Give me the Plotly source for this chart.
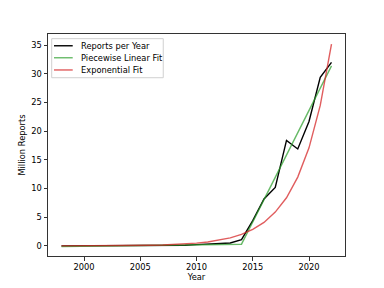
import plotly.graph_objects as go

years = list(range(1998, 2023))
reports = [0.0045, 0.012, 0.02, 0.025, 0.03, 0.05, 0.08, 0.06, 0.08, 0.1, 0.1, 0.12, 0.22, 0.33, 0.42, 0.5, 1.1,
           4.4, 8.2, 10.2, 18.4, 16.9, 21.7, 29.4, 32.0]
pw_years = [1998, 2014, 2022]
pw_values = [-0.1, 0.3, 31.4]
exp_fit = [0.006, 0.009, 0.013, 0.019, 0.027, 0.039, 0.056, 0.08, 0.11, 0.16, 0.24, 0.34, 0.48, 0.69, 0.98,
           1.4, 2.0, 2.9, 4.1, 5.9, 8.4, 12.0, 17.1, 24.5, 35.2]

names = ["Reports per Year", "Piecewise Linear Fit", "Exponential Fit"]
colors = ["black", "rgba(44,160,44,0.72)", "rgba(214,39,40,0.75)"]

fig = go.Figure()
fig.add_trace(go.Scatter(x=years, y=reports, mode="lines", name=names[0],
                         line=dict(color=colors[0], width=1.4)))
fig.add_trace(go.Scatter(x=pw_years, y=pw_values, mode="lines", name=names[1],
                         line=dict(color=colors[1], width=1.4)))
fig.add_trace(go.Scatter(x=years, y=exp_fit, mode="lines", name=names[2],
                         line=dict(color=colors[2], width=1.4)))

font = dict(family="DejaVu Sans", size=8.3, color="black")

# manual legend (paper coordinates)
shapes = [dict(type="rect", xref="paper", yref="paper", x0=0.0125, x1=0.388, y0=0.803, y1=0.979,
               line=dict(color="#d0d0d0", width=1), fillcolor="rgba(255,255,255,0.8)", layer="above")]
annotations = []
rows = [0.947, 0.893, 0.838]
for name, color, yy in zip(names, colors, rows):
    shapes.append(dict(type="line", xref="paper", yref="paper", x0=0.0202, x1=0.0832, y0=yy, y1=yy,
                       line=dict(color=color, width=1.4), layer="above"))
    annotations.append(dict(text=name, xref="paper", yref="paper", x=0.1044, y=yy, xanchor="left",
                            yanchor="middle", showarrow=False, font=font))

fig.update_layout(
    width=384, height=288,
    margin=dict(l=48, r=39, t=34, b=32),
    paper_bgcolor="white", plot_bgcolor="white",
    font=font,
    showlegend=False,
    shapes=shapes,
    annotations=annotations,
    xaxis=dict(range=[1996.8, 2023.2], tickvals=[2000, 2005, 2010, 2015, 2020], automargin=False,
               showgrid=False, zeroline=False, showline=True, linecolor="#333", linewidth=1,
               mirror=True, ticks="outside", ticklen=3.5, tickcolor="#333",
               title=dict(text="Year", font=font, standoff=2)),
    yaxis=dict(range=[-1.76, 36.96], tickvals=[0, 5, 10, 15, 20, 25, 30, 35], automargin=False,
               showgrid=False, zeroline=False, showline=True, linecolor="#333", linewidth=1,
               mirror=True, ticks="outside", ticklen=3.5, tickcolor="#333",
               title=dict(text="Million Reports", font=font, standoff=4)),
)
fig.write_html("out.html", config={"displayModeBar": False},
               post_script="document.body.style.margin='0';document.body.style.overflow='hidden';")
